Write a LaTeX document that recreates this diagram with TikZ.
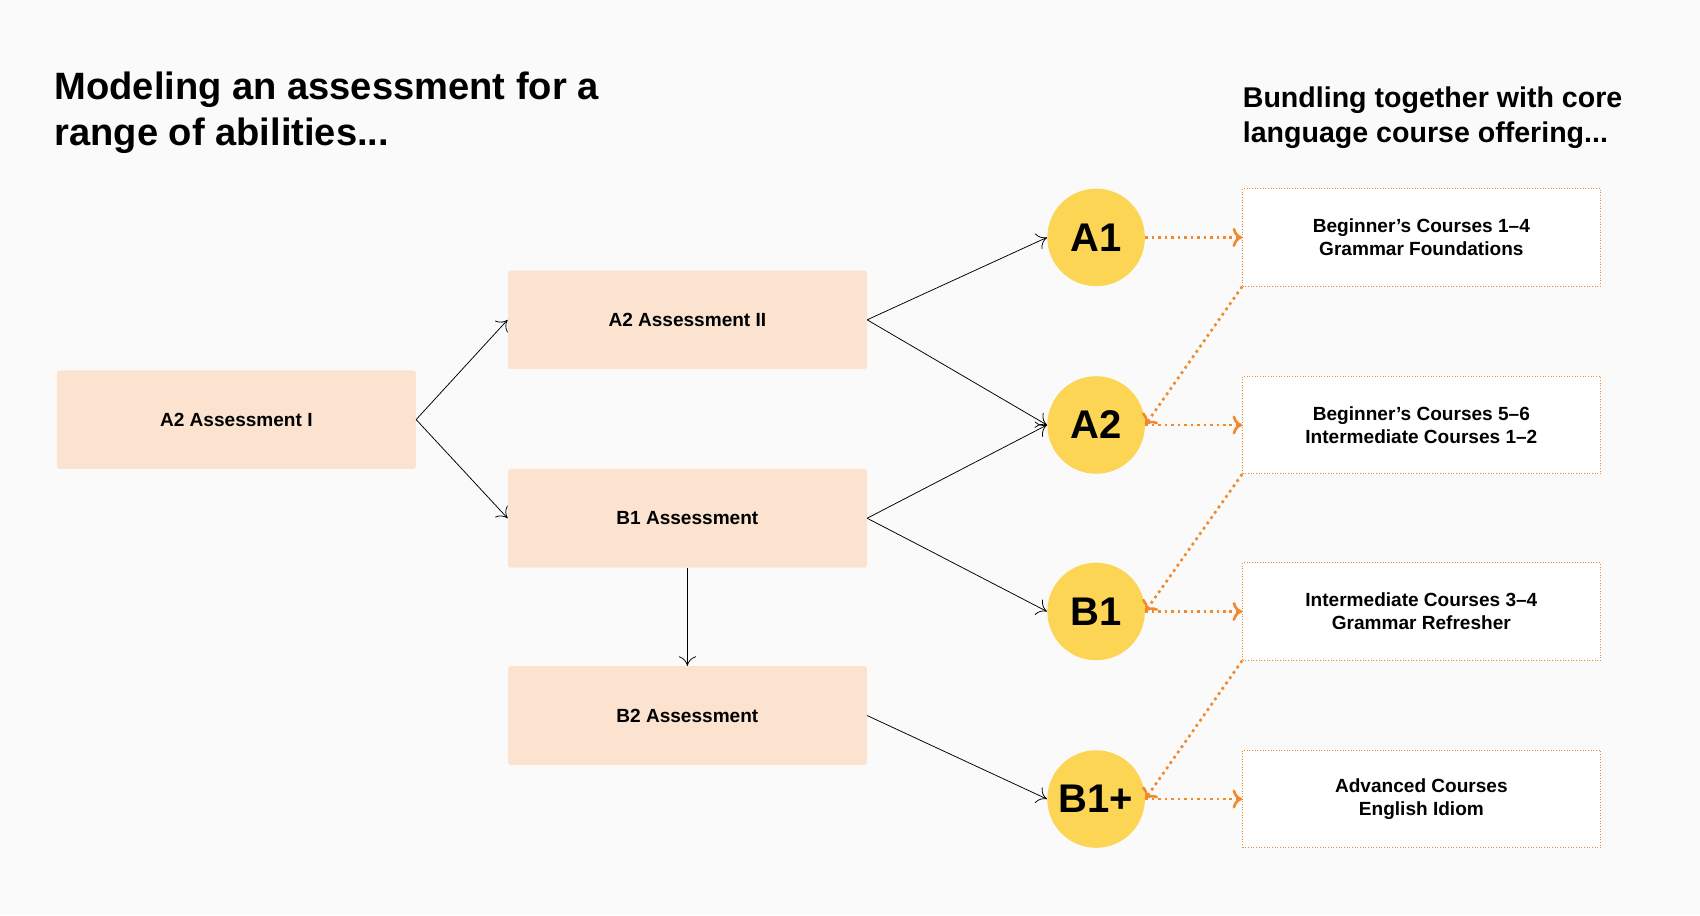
\documentclass[tikz,border=0pt]{standalone}
\usepackage{fontspec}
\setmainfont{Liberation Sans}
\usetikzlibrary{arrows.meta}
\definecolor{peach}{HTML}{FCE3CF}
\definecolor{sun}{HTML}{FCD554}
\definecolor{tangerine}{HTML}{F08A2C}
\definecolor{paper}{HTML}{FAFAFA}
\begin{document}
\begin{tikzpicture}[x=0.02cm,y=-0.02cm,
  assess/.style={fill=peach, rounded corners=1pt, minimum width=6.62cm, minimum height=1.82cm, font=\bfseries\fontsize{10}{12}\selectfont},
  level/.style={circle, fill=sun, minimum size=1.8cm, inner sep=0pt, font=\bfseries\fontsize{21}{24}\selectfont},
  course/.style={draw=tangerine, densely dotted, fill=white, minimum width=6.6cm, minimum height=1.8cm, align=center, font=\bfseries\fontsize{10}{12}\selectfont},
  link/.style={-{To[length=5pt,width=9pt]}, thin},
  bundle/.style={-{To[length=5pt,width=10pt]}, draw=tangerine, line width=1.4pt, dotted}]
\fill[paper] (0,0) rectangle (1568,844);
\useasboundingbox (0,0) rectangle (1568,844);
% titles
\node[anchor=north west, align=left, font=\bfseries\fontsize{20}{24}\selectfont, inner sep=0pt] (lhead) at (50,66) {Modeling an assessment for a\\range of abilities...};
\node[anchor=north west, align=left, font=\bfseries\fontsize{15}{18}\selectfont, inner sep=0pt] (rhead) at (1146,80) {Bundling together with core\\language course offering...};
% assessments
\node[assess] (a2i) at (218,387) {A2 Assessment I};
\node[assess] (a2ii) at (634,295) {A2 Assessment II};
\node[assess] (b1a) at (634,478) {B1 Assessment};
\node[assess] (b2a) at (634,660) {B2 Assessment};
% levels
\node[level] (lA1) at (1011,219) {A1};
\node[level] (lA2) at (1011,392) {A2};
\node[level] (lB1) at (1011,564) {B1};
\node[level] (lB1p) at (1011,737) {B1+};
% courses
\node[course] (c1) at (1311,219) {Beginner’s Courses 1–4\\Grammar Foundations};
\node[course] (c2) at (1311,392) {Beginner’s Courses 5–6\\Intermediate Courses 1–2};
\node[course] (c3) at (1311,564) {Intermediate Courses 3–4\\Grammar Refresher};
\node[course] (c4) at (1311,737) {Advanced Courses\\English Idiom};
% routes
\draw[link] (a2i.east) -- (a2ii.west);
\draw[link] (a2i.east) -- (b1a.west);
\draw[link] (a2ii.east) -- (lA1.west);
\draw[link] (a2ii.east) -- (lA2.west);
\draw[link] (b1a.east) -- (lA2.west);
\draw[link] (b1a.east) -- (lB1.west);
\draw[link] (b1a.south) -- (b2a.north);
\draw[link] (b2a.east) -- (lB1p.west);
% bundles
\foreach \l/\c in {lA1/c1, lA2/c2, lB1/c3, lB1p/c4}
  \draw[bundle] (\l.east) -- (\c.west);
\foreach \c/\l in {c1/lA2, c2/lB1, c3/lB1p}
  \draw[bundle] (\c.south west) -- (\l.east);
\end{tikzpicture}
\end{document}
